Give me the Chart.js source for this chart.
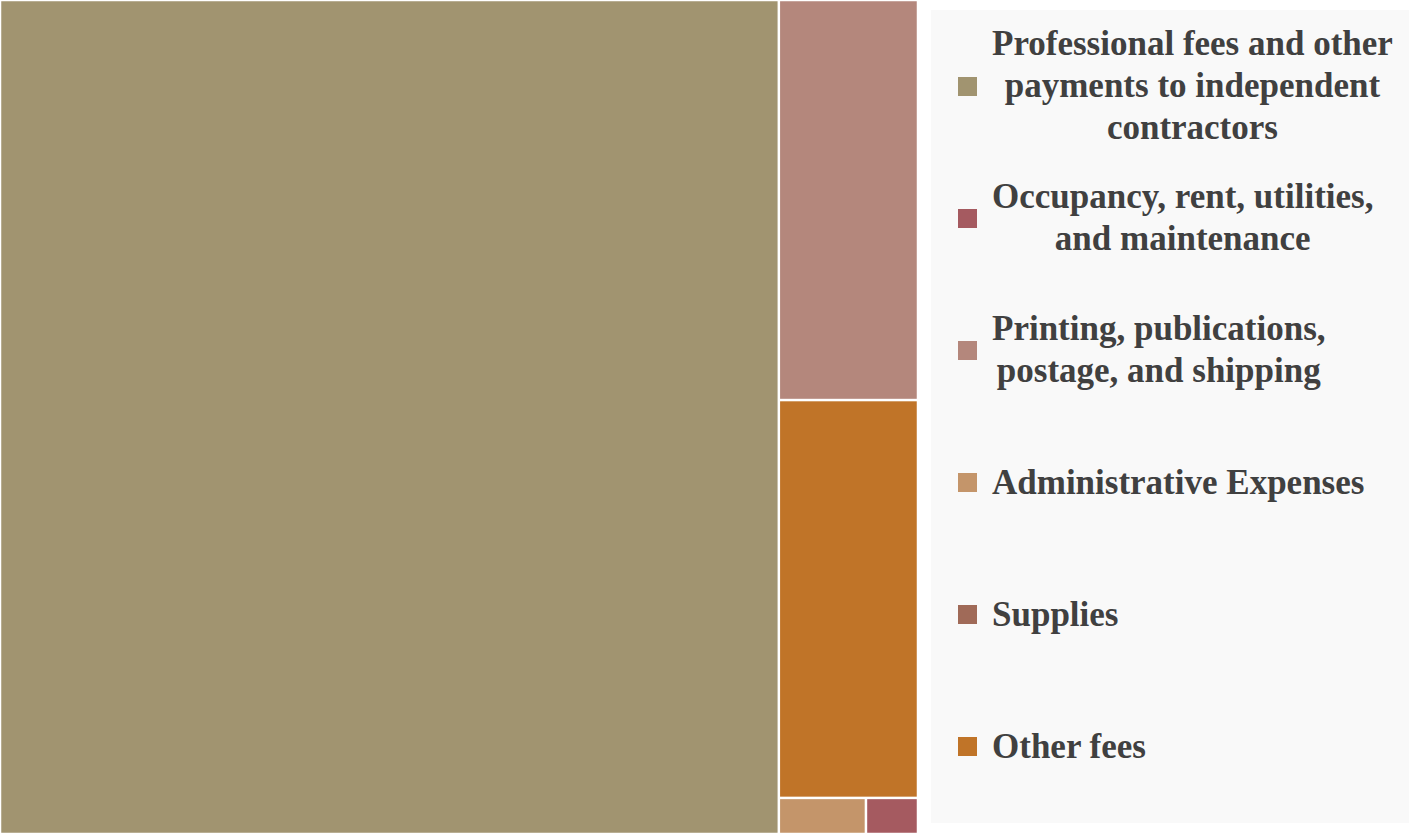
<!DOCTYPE html>
<html>
<head>
<meta charset="utf-8">
<script src="https://cdn.jsdelivr.net/npm/chart.js@4.4.1/dist/chart.umd.min.js"></script>
<style>
    body { margin: 0; background: #ffffff; width: 1409px; height: 836px; overflow: hidden; position: relative; }
    #plot { position: absolute; left: 0; top: 0; width: 918px; height: 834px; }
    #legende {
        position: absolute; left: 931px; top: 10px; width: 478px; height: 793px;
        background: #f9f9f9; padding: 10px 0;
        display: flex; flex-direction: column;
        font-family: "Liberation Serif", "Times New Roman", serif; font-weight: bold;
        font-size: 35px; line-height: 42px; color: #404040;
    }
    .item { flex: 1; display: flex; align-items: center; }
    .carre { width: 19px; height: 19px; margin-left: 27px; margin-right: 15px; flex: none; }
    .texte { display: inline-block; text-align: center; }
</style>
</head>
<body>
<div id="plot"><canvas id="Graphique"></canvas></div>
<div id="legende"></div>
<script>
// Catégories (ordre de la légende)
const categories = [
    ["Professional fees and other", "payments to independent", "contractors"],
    ["Occupancy, rent, utilities,", "and maintenance"],
    ["Printing, publications,", "postage, and shipping"],
    ["Administrative Expenses"],
    ["Supplies"],
    ["Other fees"]
];
// Part de chaque poste (%)
const valeurs = [84.7, 0.245, 7.26, 0.41, 0, 7.22];
const couleurs = ["#a19470", "#a55a60", "#b4877c", "#c4956a", "#a06a58", "#c07428"];

// Légende HTML
const legende = document.getElementById("legende");
categories.forEach((lignes, i) => {
    const item = document.createElement("div");
    item.className = "item";
    const carre = document.createElement("span");
    carre.className = "carre";
    carre.style.background = couleurs[i];
    const texte = document.createElement("span");
    texte.className = "texte";
    texte.innerHTML = lignes.join("<br>");
    item.appendChild(carre);
    item.appendChild(texte);
    legende.appendChild(item);
});

// Disposition "squarified" dans un rectangle w x h
function pire(rangee, cote) {
    const s = rangee.reduce((a, r) => a + r.aire, 0);
    let m = 0;
    rangee.forEach(r => {
        m = Math.max(m, (cote * cote * r.aire) / (s * s), (s * s) / (cote * cote * r.aire));
    });
    return m;
}

function squarify(elements, x, y, w, h) {
    const sortie = [];
    let reste = elements.slice();
    while (reste.length) {
        const cote = Math.min(w, h);
        const rangee = [reste[0]];
        let i = 1;
        while (i < reste.length && pire(rangee.concat(reste[i]), cote) <= pire(rangee, cote)) {
            rangee.push(reste[i]);
            i++;
        }
        reste = reste.slice(i);
        const somme = rangee.reduce((a, r) => a + r.aire, 0);
        if (w >= h) {
            const cw = somme / h;
            let cy = y;
            rangee.forEach(r => {
                const rh = r.aire / cw;
                sortie.push({ ...r, x: x, y: cy, w: cw, h: rh });
                cy += rh;
            });
            x += cw; w -= cw;
        } else {
            const rh = somme / w;
            let cx = x;
            rangee.forEach(r => {
                const rw = r.aire / rh;
                sortie.push({ ...r, x: cx, y: y, w: rw, h: rh });
                cx += rw;
            });
            y += rh; h -= rh;
        }
    }
    return sortie;
}

// Plugin qui dessine le treemap via les échelles x / y
const treemapPlugin = {
    id: "treemap",
    beforeDatasetsDraw(chart) {
        const ctx = chart.ctx;
        const xs = chart.scales.x, ys = chart.scales.y;
        const W = chart.chartArea.right - chart.chartArea.left;
        const H = chart.chartArea.bottom - chart.chartArea.top;
        const total = valeurs.reduce((a, v) => a + v, 0);
        const elements = valeurs
            .map((v, i) => ({ index: i, aire: v / total * W * H }))
            .filter(e => e.aire > 0)
            .sort((a, b) => b.aire - a.aire);
        const rects = squarify(elements, 0, 0, W, H);
        const bord = 1.25;
        ctx.save();
        rects.forEach(r => {
            const x0 = xs.getPixelForValue(r.x / W);
            const x1 = xs.getPixelForValue((r.x + r.w) / W);
            const y0 = ys.getPixelForValue(r.y / H);
            const y1 = ys.getPixelForValue((r.y + r.h) / H);
            ctx.fillStyle = couleurs[r.index];
            ctx.fillRect(x0 + bord, y0 + bord, x1 - x0 - 2 * bord, y1 - y0 - 2 * bord);
        });
        ctx.restore();
    }
};

const graph = document.getElementById("Graphique").getContext("2d");
new Chart(graph, {
    type: "scatter",
    data: {
        datasets: [{
            label: "Dépenses",
            data: [],
            tree: valeurs
        }]
    },
    options: {
        responsive: true,
        maintainAspectRatio: false,
        animation: false,
        layout: { padding: 0 },
        scales: {
            x: { type: "linear", min: 0, max: 1, display: false },
            y: { type: "linear", min: 0, max: 1, reverse: true, display: false }
        },
        plugins: {
            legend: { display: false },
            tooltip: { enabled: false }
        }
    },
    plugins: [treemapPlugin]
});
</script>
</body>
</html>
